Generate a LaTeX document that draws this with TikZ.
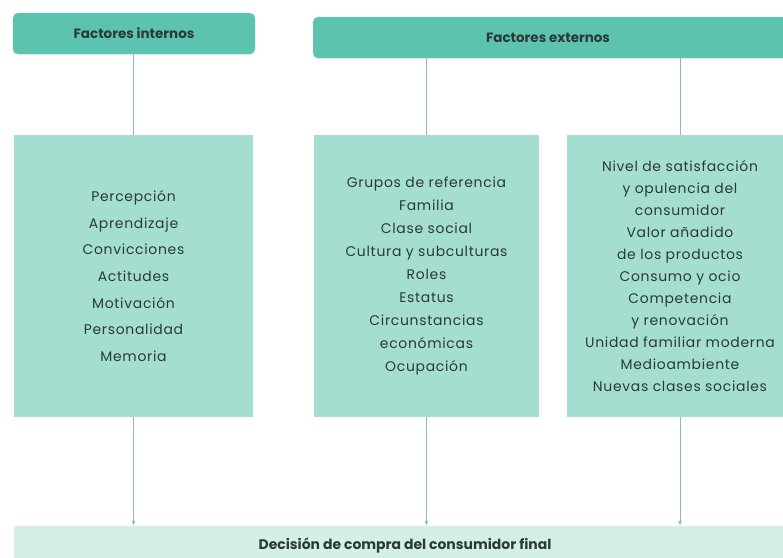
\documentclass[tikz,border=0pt]{standalone}
\usepackage{fontspec}
\setmainfont{Poppins}
\usetikzlibrary{shadows,arrows.meta}
\definecolor{hdr}{HTML}{5CC3B0}
\definecolor{cbox}{HTML}{A3DED1}
\definecolor{bbox}{HTML}{D5EFE8}
\definecolor{lin}{HTML}{8CBDB4}
\definecolor{txt}{HTML}{2B3A36}
\newcommand{\bodyfont}[1]{\fontsize{14}{#1}\selectfont\addfontfeatures{LetterSpace=5}}
\tikzset{
  header/.style={draw=none, fill=hdr, rounded corners=5bp, text=txt,
    font=\fontsize{13.5}{15}\selectfont\bfseries, inner sep=0pt,
    drop shadow={opacity=0.18, shadow xshift=0bp, shadow yshift=-1.5bp}},
  content/.style={draw=none, fill=cbox, text=txt, align=center, inner sep=0pt},
  bottombox/.style={draw=none, fill=bbox, text=txt, inner sep=0pt,
    font=\fontsize{14}{16}\selectfont\bfseries},
  conn/.style={draw=lin, line width=0.9bp},
  arr/.style={conn, -{Latex[length=5bp,width=4bp]}}
}
\begin{document}
\begin{tikzpicture}[x=1bp,y=-1bp]
\useasboundingbox (0,0) rectangle (783,558);
\node[header, minimum width=242bp, minimum height=41bp] (hi) at (134,33.5) {Factores internos};
\node[header, minimum width=480bp, minimum height=41bp] (he) at (553,37.5) {\hspace*{-10bp}Factores externos};
\node[content, minimum width=239bp, minimum height=282bp,
  font=\bodyfont{26.7}] (li) at (133.5,276)
  {Percepción\\Aprendizaje\\Convicciones\\Actitudes\\Motivación\\Personalidad\\Memoria};
\node[content, minimum width=225bp, minimum height=282bp,
  font=\bodyfont{23.1}] (mi) at (426.5,276)
  {Grupos de referencia\\Familia\\Clase social\\Cultura y subculturas\\Roles\\Estatus\\Circunstancias\\económicas\\Ocupación};
\node[content, minimum width=226bp, minimum height=282bp,
  font=\bodyfont{22.1}] (ri) at (680,276)
  {Nivel de satisfacción\\y opulencia del\\consumidor\\Valor añadido\\de los productos\\Consumo y ocio\\Competencia\\y renovación\\Unidad familiar moderna\\Medioambiente\\Nuevas clases sociales};
\node[bottombox, minimum width=776bp, minimum height=39bp] (bot) at (402,545.5) {\hspace*{6bp}Decisión de compra del consumidor final};
\draw[conn] (li.north |- hi.south) -- (li.north);
\draw[conn] (mi.north |- he.south) -- (mi.north);
\draw[conn] (ri.north |- he.south) -- (ri.north);
\draw[arr] (li.south) -- (li.south |- bot.north);
\draw[arr] (mi.south) -- (mi.south |- bot.north);
\draw[arr] (ri.south) -- (ri.south |- bot.north);
\end{tikzpicture}
\end{document}
